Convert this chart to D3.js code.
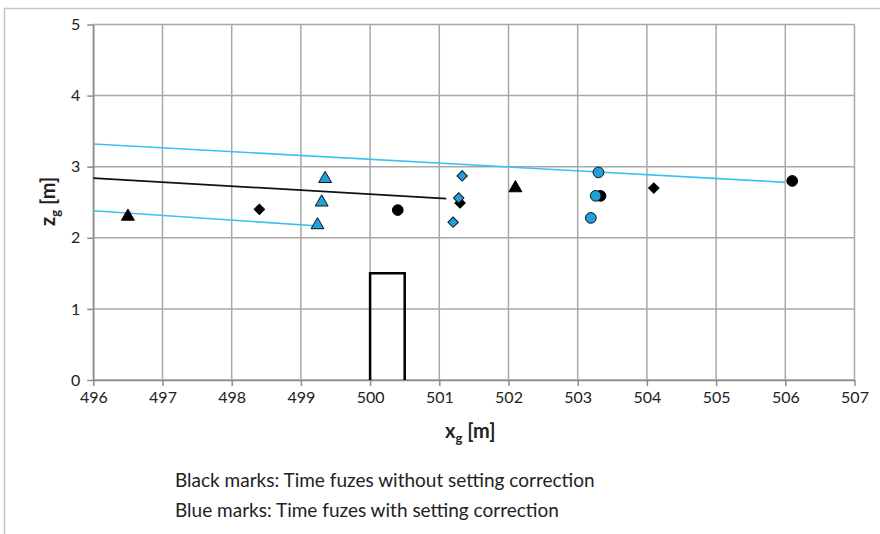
<!DOCTYPE html>
<html>
<head>
<meta charset="utf-8">
<script src="https://cdn.jsdelivr.net/npm/d3@7"></script>
<style>
  body { margin: 0; background: #fff; }
  svg text { font-family: Lato, "Open Sans", sans-serif; fill: #222; }
</style>
</head>
<body>
<svg id="chart"></svg>
<script>
const width = 880, height = 534;

// data
const xTicks = [496, 497, 498, 499, 500, 501, 502, 503, 504, 505, 506, 507];
const yTicks = [0, 1, 2, 3, 4, 5];

const blackTriangles = [[496.5, 2.3], [502.1, 2.7]];
const blackDiamonds = [[498.4, 2.4], [501.3, 2.49], [504.1, 2.7]];
const blackCircles = [[500.4, 2.39], [503.33, 2.59], [506.1, 2.8]];
const blueTriangles = [[499.35, 2.83], [499.3, 2.5], [499.24, 2.18]];
const blueDiamonds = [[501.33, 2.87], [501.28, 2.56], [501.2, 2.22]];
const blueCircles = [[503.3, 2.92], [503.26, 2.59], [503.19, 2.28]];

const blackLine = [[496, 2.84], [501.1, 2.55]];
const blueUpperLine = [[496, 3.32], [506, 2.78]];
const blueLowerLine = [[496, 2.38], [499.2, 2.17]];

const building = [[500, 0], [500, 1.5], [500.5, 1.5], [500.5, 0]];

const legendLines = [
    "Black marks: Time fuzes without setting correction",
    "Blue marks: Time fuzes with setting correction"
];

const blue = "#1fa2dc";
const blueLineColor = "#3cc0f0";

const svg = d3.select("#chart")
    .attr("width", width)
    .attr("height", height);

// outer chart border
svg.append("rect")
    .attr("x", 4.5).attr("y", 8.5)
    .attr("width", 900).attr("height", 600)
    .attr("fill", "none")
    .attr("stroke", "#c4c4c4")
    .attr("stroke-width", 1.5);

const x = d3.scaleLinear().domain([496, 507]).range([93.3, 854.5]);
const y = d3.scaleLinear().domain([0, 5]).range([380, 24.5]);

// grid
const grid = svg.append("g");
grid.selectAll(".vg")
    .data(xTicks)
    .enter().append("line")
    .attr("x1", d => x(d)).attr("x2", d => x(d))
    .attr("y1", y(0)).attr("y2", y(5))
    .attr("stroke", "#a8a8a8")
    .attr("stroke-width", 1.5);
grid.selectAll(".hg")
    .data(yTicks)
    .enter().append("line")
    .attr("x1", x(496)).attr("x2", x(507))
    .attr("y1", d => y(d)).attr("y2", d => y(d))
    .attr("stroke", "#a8a8a8")
    .attr("stroke-width", 1.5);

// axes
const xAxis = svg.append("g")
    .attr("transform", `translate(0,${y(0)})`)
    .call(d3.axisBottom(x).tickValues(xTicks).tickSize(6).tickSizeOuter(0).tickFormat(d3.format("d")));
const yAxis = svg.append("g")
    .attr("transform", `translate(${x(496)},0)`)
    .call(d3.axisLeft(y).tickValues(yTicks).tickSize(6).tickSizeOuter(0).tickFormat(d3.format("d")));
[xAxis, yAxis].forEach(a => {
    a.select(".domain").attr("stroke", "#8c8c8c").attr("stroke-width", 1.5);
    a.selectAll(".tick line").attr("stroke", "#8c8c8c").attr("stroke-width", 1.5);
    a.selectAll(".tick text")
        .attr("font-family", "Lato, sans-serif")
        .attr("font-size", 16)
        .attr("fill", "#222");
});
xAxis.selectAll(".tick text").attr("dy", "0.9em");
yAxis.selectAll(".tick text").attr("x", -13);

// building
svg.append("path")
    .attr("d", d3.line().x(d => x(d[0])).y(d => y(d[1]))(building))
    .attr("fill", "none")
    .attr("stroke", "#000")
    .attr("stroke-width", 2.5);

// fitted lines
const line = d3.line().x(d => x(d[0])).y(d => y(d[1]));
svg.append("path").attr("d", line(blueUpperLine))
    .attr("fill", "none").attr("stroke", blueLineColor).attr("stroke-width", 1.6);
svg.append("path").attr("d", line(blueLowerLine))
    .attr("fill", "none").attr("stroke", blueLineColor).attr("stroke-width", 1.6);
svg.append("path").attr("d", line(blackLine))
    .attr("fill", "none").attr("stroke", "#111").attr("stroke-width", 1.8);

// markers
function drawMarks(data, shape, size, fill, stroke, rot) {
    svg.append("g").selectAll("path")
        .data(data)
        .enter().append("path")
        .attr("transform", d => `translate(${x(d[0])},${y(d[1])}) rotate(${rot || 0})`)
        .attr("d", d3.symbol().type(shape).size(size))
        .attr("fill", fill)
        .attr("stroke", stroke)
        .attr("stroke-width", 1);
}
drawMarks(blackTriangles, d3.symbolTriangle, 72, "#000", "#000");
drawMarks(blackDiamonds, d3.symbolSquare, 54, "#000", "#000", 45);
drawMarks(blackCircles, d3.symbolCircle, 90, "#000", "#000");
drawMarks(blueTriangles, d3.symbolTriangle, 72, blue, "#111");
drawMarks(blueDiamonds, d3.symbolSquare, 54, blue, "#111", 45);
drawMarks(blueCircles, d3.symbolCircle, 90, blue, "#111");

// axis titles
const xt = svg.append("text")
    .attr("x", 445).attr("y", 438)
    .attr("font-size", 20).attr("font-weight", "bold");
xt.append("tspan").text("x");
xt.append("tspan").attr("font-size", 13).attr("dy", 5).text("g");
xt.append("tspan").attr("dy", -5).text(" [m]");

const yt = svg.append("text")
    .attr("transform", "translate(55,226) rotate(-90)")
    .attr("font-size", 20).attr("font-weight", "bold");
yt.append("tspan").text("z");
yt.append("tspan").attr("font-size", 13).attr("dy", 5).text("g");
yt.append("tspan").attr("dy", -5).text(" [m]");

// notes under the chart
svg.selectAll(".note")
    .data(legendLines)
    .enter().append("text")
    .attr("x", 175)
    .attr("y", (d, i) => 487 + i * 30)
    .attr("font-size", 19)
    .text(d => d);
</script>
</body>
</html>
